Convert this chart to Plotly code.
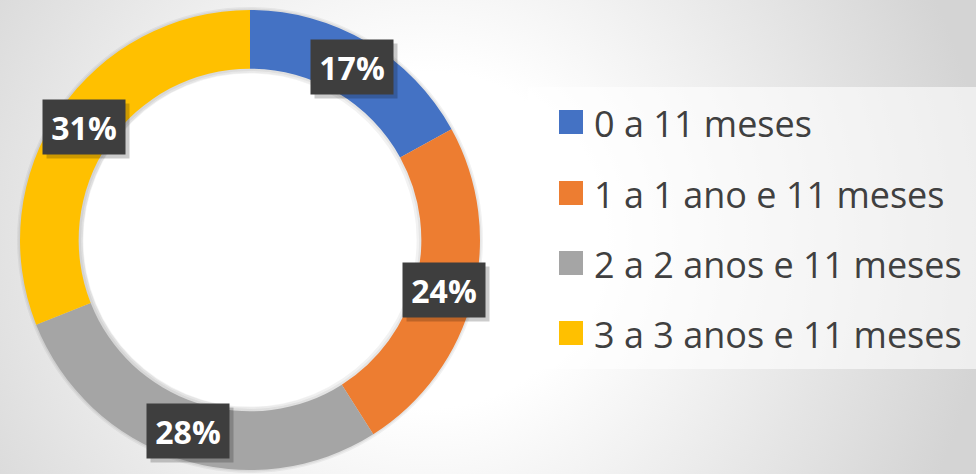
import base64
import math
import plotly.graph_objects as go

# ---- data ----
categories = ["0 a 11 meses", "1 a 1 ano e 11 meses", "2 a 2 anos e 11 meses", "3 a 3 anos e 11 meses"]
values = [17, 24, 28, 31]
colors = ["#4472C4", "#ED7D31", "#A5A5A5", "#FFC000"]

W, H = 976, 474
FONT = "Open Sans, Lato, sans-serif"

# ---- background radial gradient (styling only) ----
svg = f"""<svg xmlns='http://www.w3.org/2000/svg' width='{W}' height='{H}' viewBox='0 0 {W} {H}'>
<defs><radialGradient id='g' gradientUnits='userSpaceOnUse' cx='430' cy='240' r='560'>
<stop offset='0' stop-color='#ffffff'/><stop offset='0.3' stop-color='#ffffff'/>
<stop offset='1' stop-color='#d4d4d4'/></radialGradient></defs>
<rect width='{W}' height='{H}' fill='url(#g)'/></svg>"""
bg_src = "data:image/svg+xml;base64," + base64.b64encode(svg.encode()).decode()

# pie geometry (pixels)
cx, cy, R_out, hole = 250, 240, 230, 0.745
R_in = R_out * hole
dom_x = [(cx - R_out) / W, (cx + R_out) / W]
dom_y = [1 - (cy + R_out) / H, 1 - (cy - R_out) / H]

fig = go.Figure()

# soft shadow rings
for sh, hl, a in [(3, 0.715, 0.05), (1.5, 0.73, 0.05)]:
    fig.add_trace(go.Pie(
        values=[1], labels=["shadow"], hole=hl,
        domain=dict(x=[(cx - R_out - sh) / W, (cx + R_out + sh) / W],
                    y=[max(0, 1 - (cy + R_out + sh) / H), min(1, 1 - (cy - R_out - sh) / H)]),
        marker=dict(colors=[f"rgba(0,0,0,{a})"], line=dict(width=0)),
        textinfo="none", hoverinfo="skip", showlegend=False, sort=False,
    ))

fig.add_trace(go.Pie(
    labels=categories, values=values, hole=hole, sort=False,
    direction="clockwise", rotation=0,
    domain=dict(x=dom_x, y=dom_y),
    marker=dict(colors=colors, line=dict(width=0)),
    textinfo="none", showlegend=False,
))

# white inside the hole
fig.add_shape(type="circle", xref="paper", yref="paper",
              x0=(cx - R_in + 4) / W, x1=(cx + R_in - 4) / W,
              y0=1 - (cy + R_in - 4) / H, y1=1 - (cy - R_in + 4) / H,
              fillcolor="white", line=dict(width=0), layer="below")

# data labels: dark boxes at mid-angle of each slice, centred in the ring
total = sum(values)
r_mid = R_out * (1 + hole) / 2
cum = 0
for v in values:
    mid = (cum + v / 2) / total * 2 * math.pi
    cum += v
    px = cx + r_mid * math.sin(mid)
    py = cy - r_mid * math.cos(mid)
    pct = f"{round(v / total * 100)}%"
    common = dict(x=px / W, y=1 - py / H, xref="paper", yref="paper",
                  xanchor="center", yanchor="middle", showarrow=False,
                  width=82, height=54, borderpad=0)
    fig.add_annotation(text="", bgcolor="rgba(0,0,0,0.2)", xshift=4, yshift=-4, **common)
    fig.add_annotation(text=f"<b>{pct}</b>", bgcolor="#3e3e3e",
                       font=dict(family=FONT, size=32, color="white"), **common)

# custom legend
box_x0, box_y0, box_y1 = 528, 87, 369
row_y = [122, 193, 263, 333]
fig.add_shape(type="rect", xref="paper", yref="paper",
              x0=box_x0 / W, x1=1.02, y0=1 - box_y1 / H, y1=1 - box_y0 / H,
              fillcolor="rgba(255,255,255,0.6)", line=dict(width=0), layer="below")
for cat, col, ry in zip(categories, colors, row_y):
    fig.add_shape(type="rect", xref="paper", yref="paper",
                  x0=559 / W, x1=583 / W, y0=1 - (ry + 12) / H, y1=1 - (ry - 12) / H,
                  fillcolor=col, line=dict(width=0))
    fig.add_annotation(x=592 / W, y=1 - (ry + 1) / H, xref="paper", yref="paper",
                       xanchor="left", yanchor="middle", text=cat, showarrow=False,
                       font=dict(family=FONT, size=36, color="#404040"))

fig.update_layout(
    width=W, height=H,
    margin=dict(l=0, r=0, t=0, b=0),
    paper_bgcolor="white",
    showlegend=False,
    images=[dict(source=bg_src, xref="paper", yref="paper", x=0, y=1,
                 sizex=1, sizey=1, sizing="stretch", layer="below",
                 xanchor="left", yanchor="top")],
)

fig.write_html("out.html", config={"displayModeBar": False},
               post_script="document.body.style.margin='0';")
